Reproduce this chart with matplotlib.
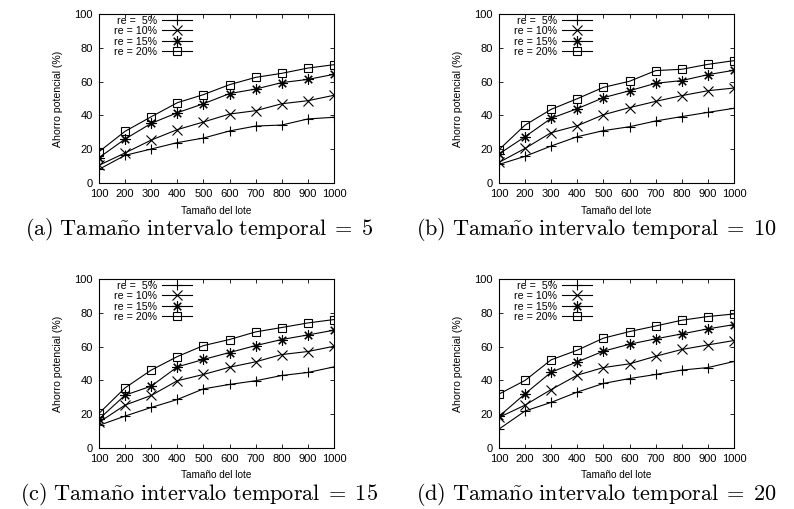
import numpy as np
import matplotlib.pyplot as plt

plt.rcParams['font.family'] = ['Liberation Sans', 'DejaVu Sans']
plt.rcParams['mathtext.fontset'] = 'cm'

lote = [100, 200, 300, 400, 500, 600, 700, 800, 900, 1000]
etiquetas = ['re =  5%', 're = 10%', 're = 15%', 're = 20%']

# intervalo temporal = 5
a_re5 = [8.1, 16.4, 20.1, 23.9, 26.6, 30.8, 33.7, 34.3, 37.9, 38.9]
a_re10 = [10.5, 17.8, 25.4, 31.6, 36.1, 40.8, 42.8, 46.9, 48.7, 51.9]
a_re15 = [15.0, 26.0, 35.3, 41.6, 46.9, 52.9, 55.6, 59.4, 61.3, 64.3]
a_re20 = [18.5, 30.6, 39.2, 47.5, 52.3, 58.2, 62.5, 64.9, 68.0, 70.0]

# intervalo temporal = 10
b_re5 = [11.0, 15.8, 21.9, 27.4, 31.0, 33.3, 36.7, 39.3, 41.8, 44.2]
b_re10 = [12.2, 20.5, 29.8, 33.9, 40.4, 44.6, 48.3, 51.7, 54.6, 56.2]
b_re15 = [17.2, 27.4, 38.3, 44.0, 50.5, 54.6, 59.0, 60.6, 64.1, 66.7]
b_re20 = [19.7, 34.3, 43.6, 49.9, 56.6, 60.2, 66.5, 67.3, 70.2, 72.4]

# intervalo temporal = 15
c_re5 = [13.4, 18.9, 24.0, 28.7, 35.0, 37.6, 39.8, 42.9, 44.7, 48.0]
c_re10 = [15.2, 25.4, 31.1, 39.8, 43.5, 47.8, 51.0, 55.3, 57.1, 60.2]
c_re15 = [17.1, 31.3, 36.6, 48.0, 52.4, 56.5, 60.6, 64.2, 66.9, 69.7]
c_re20 = [20.5, 35.6, 46.1, 54.1, 60.6, 64.2, 68.7, 71.3, 74.0, 76.0]

# intervalo temporal = 20
d_re5 = [11.2, 21.9, 27.0, 33.1, 38.2, 41.1, 43.5, 46.1, 47.6, 51.2]
d_re10 = [18.1, 25.4, 34.6, 43.1, 47.6, 49.8, 54.3, 58.3, 61.0, 63.6]
d_re15 = [18.7, 32.1, 44.9, 51.0, 57.3, 61.4, 64.6, 67.5, 70.5, 73.0]
d_re20 = [31.9, 40.0, 52.2, 57.9, 65.0, 68.9, 72.2, 75.6, 77.8, 79.3]

paneles = [
    ('a', 5, [a_re5, a_re10, a_re15, a_re20]),
    ('b', 10, [b_re5, b_re10, b_re15, b_re20]),
    ('c', 15, [c_re5, c_re10, c_re15, c_re20]),
    ('d', 20, [d_re5, d_re10, d_re15, d_re20]),
]

# + , x , asterisco (+ y x), cuadrado vacio
marcadores = [('+', 7.5), ('x', 6.5), ((8, 2, 0), 7.5), ('s', 6)]

fig = plt.figure(figsize=(7.94, 5.09), dpi=100)
W, H = 794.0, 509.0
# esquina superior izquierda de cada panel (px) y centro x del pie
posiciones = [(99, 14, 199), (499, 14, 596), (99, 279, 199), (499, 279, 596)]

for (letra, intervalo, series), (px, py, cx) in zip(paneles, posiciones):
    ax = fig.add_axes([px / W, 1 - (py + 169) / H, 235 / W, 169 / H])
    for datos, lab, (m, ms) in zip(series, etiquetas, marcadores):
        ax.plot(lote, datos, color='black', lw=0.8, marker=m, markersize=ms,
                markerfacecolor='none', markeredgewidth=0.8, label=lab)
    ax.set_xlim(100, 1000)
    ax.set_ylim(0, 100)
    ax.set_xticks(lote)
    ax.set_yticks(range(0, 101, 20))
    ax.tick_params(direction='in', top=True, right=True, labelsize=8,
                   length=3, width=0.6)
    ax.tick_params(axis='x', pad=4)
    ax.tick_params(axis='y', pad=4.5)
    for s in ax.spines.values():
        s.set_linewidth(0.8)
    ax.set_xlabel('Tamaño del lote', fontsize=7.2, labelpad=5)
    ax.set_ylabel('Ahorro potencial (%)', fontsize=7.6, labelpad=8)
    ax.legend(loc='upper right', frameon=False, fontsize=7.7, markerfirst=False,
              handlelength=2.8, handletextpad=0.45, labelspacing=0.04,
              borderpad=0, borderaxespad=0, bbox_to_anchor=(0.396, 0.99))
    fig.text(cx / W, 1 - (py + 221) / H,
             r'$\mathrm{(%s)\ Tama\tilde{n}o\ intervalo\ temporal\;=\;%d}$' % (letra, intervalo),
             ha='center', va='baseline', fontsize=16)

fig.savefig('out.png', dpi=100)
